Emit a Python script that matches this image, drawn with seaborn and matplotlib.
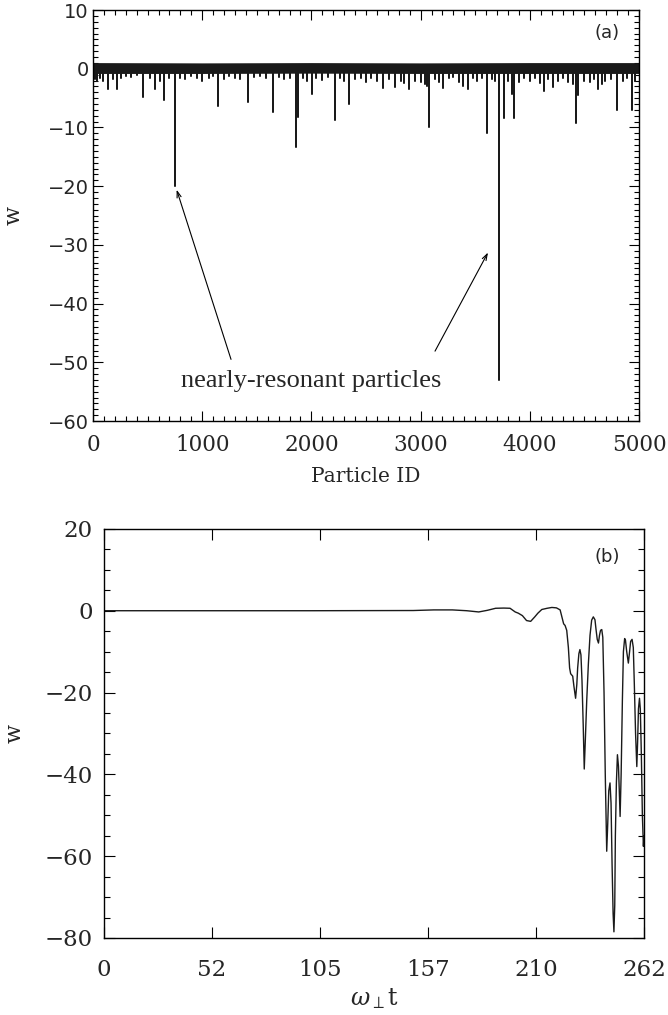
import numpy as np
import pandas as pd
import matplotlib
matplotlib.use("Agg")
import matplotlib.pyplot as plt
from matplotlib.ticker import MultipleLocator, FixedLocator, FixedFormatter
import seaborn as sns

# ---------------- Panel (a) data: w per particle ----------------
spike_ids = [20, 34, 60, 95, 141, 180, 222, 260, 300, 350, 400, 461, 520, 568, 610,
             647, 700, 751, 800, 842, 900, 950, 998, 1060, 1100, 1148, 1200, 1250,
             1300, 1350, 1422, 1470, 1530, 1580, 1651, 1700, 1750, 1800, 1856, 1874,
             1920, 1960, 2002, 2040, 2100, 2150, 2216, 2260, 2300, 2344, 2400, 2450,
             2500, 2550, 2600, 2658, 2710, 2766, 2820, 2850, 2894, 2950, 3000, 3040,
             3060, 3080, 3130, 3170, 3208, 3260, 3300, 3350, 3391, 3437, 3480, 3520,
             3560, 3605, 3650, 3680, 3721, 3768, 3800, 3841, 3856, 3900, 3950, 4000,
             4050, 4090, 4131, 4170, 4215, 4260, 4300, 4350, 4400, 4423, 4444, 4500,
             4550, 4590, 4622, 4660, 4689, 4740, 4795, 4850, 4890, 4937, 4960]
spike_w = [-1.8, -2.0, -1.5, -2.1, -3.4, -1.8, -3.4, -1.5, -1.2, -1.4, -1.0, -4.8,
           -1.6, -3.4, -2.0, -5.4, -1.6, -19.9, -1.5, -1.7, -1.3, -1.5, -2.0, -1.6,
           -1.2, -6.3, -1.8, -1.3, -1.5, -1.7, -5.7, -1.4, -1.2, -1.6, -7.4, -1.4,
           -1.8, -1.5, -13.4, -8.2, -1.6, -2.0, -4.3, -1.5, -1.9, -1.4, -8.7, -1.6,
           -2.0, -6.0, -1.8, -1.5, -2.2, -1.6, -2.0, -3.2, -1.8, -3.1, -2.0, -2.4,
           -3.5, -2.0, -2.2, -2.6, -3.0, -10.0, -1.8, -2.2, -3.2, -1.6, -1.4, -2.2,
           -3.0, -3.4, -1.5, -2.1, -1.5, -11.0, -1.8, -2.0, -53.0, -8.4, -2.0, -4.3,
           -8.4, -2.3, -1.6, -2.0, -1.6, -2.4, -3.8, -1.8, -3.1, -2.0, -1.5, -2.2,
           -2.6, -9.3, -4.5, -2.0, -2.2, -1.8, -3.4, -2.6, -2.0, -1.8, -7.0, -2.0,
           -1.6, -7.1, -2.0]
band_ids = [0, 1000, 2000, 3000, 4000, 5000]
band_top = [1.05, 1.0, 1.05, 1.0, 1.05, 1.05]
band_bottom = [-0.8, -0.8, -0.75, -0.8, -0.8, -0.8]

# ---------------- Panel (b) data: w(t) of one particle ----------------
t_vals = [0, 50, 100, 150, 160, 169, 176, 181.8, 186, 190, 194, 197, 199.5, 201,
          203, 205, 207, 209, 210.5, 212.4, 215, 217.3, 219.5, 221.3, 222.4, 223.0,
          223.7, 224.5, 225.3, 225.9, 226.4, 227.4, 228.0, 228.8, 229.4, 229.8,
          230.4, 230.9, 231.4, 231.9, 232.5, 233.0, 233.5, 234.2, 235.0, 235.8,
          236.6, 237.4, 238.2, 238.7, 239.3, 239.9, 240.4, 240.9, 241.5, 242.0,
          242.6, 243.2, 243.9, 244.4, 244.9, 245.5, 246.0, 246.5, 247.0, 247.4,
          247.8, 248.1, 248.6, 249.1, 249.6, 250.0, 250.4, 250.9, 251.5, 252.0,
          252.6, 253.0, 253.6, 254.4, 255.0, 255.5, 256.2, 256.8, 257.3, 257.9,
          258.5, 258.9, 259.3, 259.8, 260.2, 260.7, 261.2, 261.7, 262.0]
w_vals = [0.0, 0.0, 0.0, 0.05, 0.2, 0.2, 0.0, -0.3, 0.1, 0.6, 0.65, 0.6, -0.3, -0.6,
          -1.2, -2.4, -2.6, -1.5, -0.6, 0.3, 0.6, 0.8, 0.7, 0.2, -2.0, -3.2, -3.6,
          -4.8, -9.0, -14.0, -15.4, -16.0, -18.5, -21.4, -18.0, -14.0, -10.5, -9.5,
          -10.8, -17.0, -28.0, -38.7, -32.0, -22.0, -13.0, -6.0, -2.3, -1.5, -2.2,
          -4.5, -7.0, -7.9, -6.0, -4.8, -4.6, -6.5, -20.0, -40.0, -58.8, -52.0,
          -44.0, -42.1, -47.0, -62.0, -74.0, -78.5, -72.0, -55.0, -42.0, -35.2,
          -38.0, -44.0, -50.3, -40.0, -22.0, -10.0, -6.8, -7.2, -10.0, -12.8, -10.0,
          -7.5, -7.0, -9.0, -18.0, -30.0, -38.1, -32.0, -24.0, -21.4, -24.0, -35.0,
          -50.0, -57.6, -55.0]
b_xtick_labels = ["0", "52", "105", "157", "210", "262"]

# ---------------- Styling ----------------
sns.set_style("ticks")
plt.rcParams["font.family"] = ["DejaVu Serif"]
plt.rcParams["mathtext.fontset"] = "dejavuserif"
INK = "#1a1a1a"

fig = plt.figure(figsize=(6.68, 10.15), dpi=100)
ax1 = fig.add_axes([0.1392, 0.5852, 0.8174, 0.4049])
ax2 = fig.add_axes([0.1557, 0.0759, 0.8084, 0.4030])

# ---- Panel (a)
ax1.fill_between(band_ids, band_bottom, band_top, color=INK, lw=0)
zig_x, zig_y = [], []
for i, w in zip(spike_ids, spike_w):
    zig_x += [i, i, i]
    zig_y += [0.0, w, 0.0]
df_a = pd.DataFrame({"id": zig_x, "w": zig_y})
sns.lineplot(data=df_a, x="id", y="w", ax=ax1, sort=False, estimator=None,
             color=INK, lw=1.1)
ax1.set_xlim(0, 5000)
ax1.set_ylim(-60, 10)
ax1.xaxis.set_major_locator(MultipleLocator(1000))
ax1.xaxis.set_minor_locator(MultipleLocator(100))
ax1.yaxis.set_major_locator(MultipleLocator(10))
ax1.yaxis.set_minor_locator(MultipleLocator(1))
ax1.tick_params(which="both", direction="in", top=True, right=True, width=0.8,
                color="black")
ax1.tick_params(which="major", length=7)
ax1.tick_params(which="minor", length=3.5)
ax1.tick_params(axis="x", pad=9)
ax1.tick_params(axis="y", pad=3)
for lab in ax1.get_xticklabels():
    lab.set_family("DejaVu Serif")
    lab.set_fontsize(15.5)
for lab in ax1.get_yticklabels():
    lab.set_family("DejaVu Sans")
    lab.set_fontsize(14)
for sp in ax1.spines.values():
    sp.set_visible(True)
    sp.set_linewidth(1.0)
    sp.set_color("black")
ax1.set_xlabel("Particle ID", fontsize=14.5, family="DejaVu Serif")
ax1.xaxis.set_label_coords(0.5, -0.112)
ax1.set_ylabel("w", fontsize=16, family="DejaVu Serif")
ax1.yaxis.set_label_coords(-0.126, 0.5)
ax1.text(0.941, 0.944, "(a)", transform=ax1.transAxes, ha="center", va="center",
         family="DejaVu Sans", fontsize=13)
ax1.text(1996, -53.1, "nearly-resonant particles", ha="center", va="center",
         family="Liberation Serif", fontsize=19)
arrow_kw = dict(arrowstyle="->,head_length=0.45,head_width=0.15", lw=0.8,
                color="black", shrinkA=0, shrinkB=0)
ax1.annotate("", xy=(766, -20.6), xytext=(1264, -49.5), arrowprops=arrow_kw)
ax1.annotate("", xy=(3617, -31.3), xytext=(3132, -48.1), arrowprops=arrow_kw)

# ---- Panel (b)
df_b = pd.DataFrame({"t": t_vals, "w": w_vals})
sns.lineplot(data=df_b, x="t", y="w", ax=ax2, sort=False, estimator=None,
             color=INK, lw=1.0)
ax2.set_xlim(0, 262)
ax2.set_ylim(-80, 20)
ax2.xaxis.set_major_locator(FixedLocator(np.linspace(0, 262, len(b_xtick_labels))))
ax2.xaxis.set_major_formatter(FixedFormatter(b_xtick_labels))
ax2.yaxis.set_major_locator(MultipleLocator(20))
ax2.yaxis.set_minor_locator(MultipleLocator(5))
ax2.tick_params(which="both", direction="in", top=True, right=True, width=0.8,
                color="black")
ax2.tick_params(which="major", length=8)
ax2.tick_params(which="minor", length=4.3)
ax2.tick_params(axis="x", pad=15, labelsize=16.5)
ax2.tick_params(axis="y", pad=8, labelsize=16.5)
for sp in ax2.spines.values():
    sp.set_visible(True)
    sp.set_linewidth(1.0)
    sp.set_color("black")
ax2.set_xlabel(r"$\omega_{\perp}\mathrm{t}$", fontsize=17)
ax2.xaxis.set_label_coords(0.5, -0.118)
ax2.set_ylabel("w", fontsize=16)
ax2.yaxis.set_label_coords(-0.146, 0.5)
ax2.text(0.931, 0.932, "(b)", transform=ax2.transAxes, ha="center", va="center",
         family="DejaVu Sans", fontsize=13)

fig.savefig("out.png", dpi=100)
